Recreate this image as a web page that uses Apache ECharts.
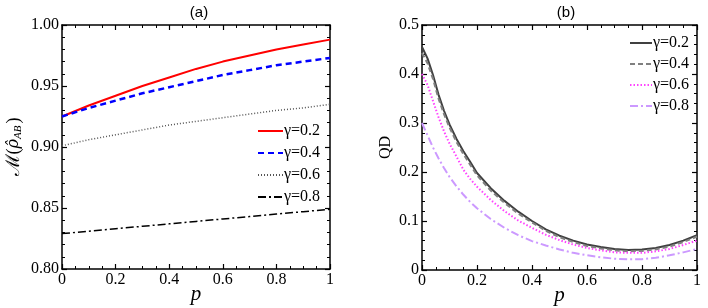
<!DOCTYPE html>
<html>
<head>
<meta charset="utf-8">
<script src="https://cdn.jsdelivr.net/npm/echarts@6/dist/echarts.min.js"></script>
<style>
html,body{margin:0;padding:0;background:#fff;}
#c{width:708px;height:308px;}
</style>
</head>
<body>
<div id="c"></div>
<script>
// ---- data ----
var gammaLabels = ['γ=0.2', 'γ=0.4', 'γ=0.6', 'γ=0.8'];
var xTicks = [0, 0.2, 0.4, 0.6, 0.8, 1];

// panel (a)
var pA = [0, 0.1, 0.2, 0.3, 0.4, 0.5, 0.6, 0.7, 0.8, 0.9, 1];
var mG02 = [0.925, 0.934, 0.942, 0.950, 0.957, 0.964, 0.970, 0.975, 0.980, 0.984, 0.988];
var mG04 = [0.925, 0.932, 0.938, 0.944, 0.949, 0.954, 0.959, 0.963, 0.967, 0.970, 0.973];
var mG06 = [0.901, 0.906, 0.910, 0.914, 0.918, 0.921, 0.924, 0.927, 0.930, 0.932, 0.935];
var mG08 = [0.829, 0.831, 0.833, 0.835, 0.837, 0.839, 0.841, 0.843, 0.845, 0.847, 0.849];

// panel (b)
var pB = [0, 0.02, 0.04, 0.06, 0.08, 0.1, 0.125, 0.15, 0.175, 0.2, 0.25, 0.3, 0.35, 0.4, 0.45, 0.5, 0.55, 0.6, 0.65, 0.7, 0.75, 0.8, 0.85, 0.9, 0.95, 1];
var qG02 = [0.455, 0.432, 0.398, 0.358, 0.325, 0.297, 0.268, 0.243, 0.221, 0.198, 0.167, 0.141, 0.119, 0.100, 0.083, 0.070, 0.060, 0.052, 0.047, 0.043, 0.041, 0.042, 0.045, 0.051, 0.060, 0.071];
var qG04 = [0.443, 0.422, 0.390, 0.350, 0.318, 0.291, 0.262, 0.237, 0.215, 0.193, 0.162, 0.137, 0.115, 0.097, 0.080, 0.067, 0.057, 0.049, 0.044, 0.040, 0.038, 0.039, 0.042, 0.048, 0.057, 0.068];
var qG06 = [0.400, 0.378, 0.345, 0.312, 0.283, 0.258, 0.232, 0.205, 0.186, 0.170, 0.143, 0.120, 0.101, 0.086, 0.072, 0.061, 0.052, 0.045, 0.040, 0.036, 0.035, 0.035, 0.038, 0.043, 0.051, 0.060];
var qG08 = [0.300, 0.275, 0.250, 0.228, 0.208, 0.190, 0.171, 0.154, 0.139, 0.126, 0.104, 0.086, 0.071, 0.059, 0.050, 0.042, 0.035, 0.030, 0.026, 0.023, 0.022, 0.022, 0.025, 0.030, 0.036, 0.043];

function pairs(xs, ys) { return xs.map(function (x, i) { return [x, ys[i]]; }); }

var SERIF = 'Liberation Serif';
var axisLine = { show: true, onZero: false, lineStyle: { color: '#000', width: 1.5 } };
function xFmt(v) { if (Math.abs(v) < 1e-9) return '0'; if (Math.abs(v - 1) < 1e-9) return '1'; return v.toFixed(1); }

function xAxisPair(gi) {
  var base = {
    gridIndex: gi, type: 'value', min: 0, max: 1, interval: 0.2,
    axisLine: axisLine, splitLine: { show: false },
    axisTick: { show: true, inside: true, length: 5, lineStyle: { color: '#000', width: 1.2 } },
    minorTick: { show: true, splitNumber: 4, length: 3, lineStyle: { color: '#000', width: 1 } }
  };
  var bottom = Object.assign({}, base, {
    position: 'bottom',
    axisLabel: { show: true, color: '#000', fontFamily: SERIF, fontSize: 16, margin: 3, formatter: xFmt },
    name: 'p', nameLocation: 'middle', nameGap: 15, nameMoveOverlap: false,
    nameTextStyle: { color: '#000', fontFamily: SERIF, fontStyle: 'italic', fontSize: 21 }
  });
  var top = Object.assign({}, base, { position: 'top', axisLabel: { show: false } });
  return [bottom, top];
}

function yAxisPair(gi, min, max, interval, fmt, nameObj) {
  var base = {
    gridIndex: gi, type: 'value', min: min, max: max, interval: interval,
    axisLine: axisLine, splitLine: { show: false },
    axisTick: { show: true, inside: true, length: 5, lineStyle: { color: '#000', width: 1.2 } },
    minorTick: { show: true, splitNumber: 5, length: 3, lineStyle: { color: '#000', width: 1 } }
  };
  var left = Object.assign({}, base, {
    position: 'left',
    axisLabel: { show: true, color: '#000', fontFamily: SERIF, fontSize: 16, margin: 3, formatter: fmt }
  }, nameObj);
  var right = Object.assign({}, base, { position: 'right', axisLabel: { show: false } });
  return [left, right];
}

var xa = xAxisPair(0), xb = xAxisPair(1);
var ya = yAxisPair(0, 0.8, 1.0, 0.05, function (v) { return v.toFixed(2); }, {
  name: '{m|ℳ}{n|(}{r|ρ̂}{s|AB}{n|)}', nameLocation: 'middle', nameGap: 38, nameRotate: 90,
  nameTextStyle: {
    color: '#000',
    rich: {
      m: { fontFamily: 'DejaVu Serif', fontSize: 19, color: '#000' },
      n: { fontFamily: SERIF, fontSize: 18, color: '#000' },
      r: { fontFamily: 'DejaVu Serif', fontStyle: 'italic', fontSize: 16, color: '#000' },
      s: { fontFamily: SERIF, fontStyle: 'italic', fontSize: 11, color: '#000', padding: [9, 2, 0, 0] }
    }
  }
});
var yb = yAxisPair(1, 0, 0.5, 0.1, function (v) { return Math.abs(v) < 1e-9 ? '0' : v.toFixed(1); }, {
  name: 'QD', nameLocation: 'middle', nameGap: 28, nameRotate: 90,
  nameTextStyle: { color: '#000', fontFamily: SERIF, fontSize: 16 }
});

function line(name, xi, yi, data, color, type, width) {
  return {
    type: 'line', name: name, xAxisIndex: xi, yAxisIndex: yi, data: data,
    showSymbol: false, symbol: 'none', smooth: false,
    lineStyle: { color: color, type: type, width: width }, itemStyle: { color: color },
    z: 3
  };
}

var dashDot = [8, 3, 2, 3];
var series = [
  line('Aγ=0.2', 0, 0, pairs(pA, mG02), '#ff0000', 'solid', 2),
  line('Aγ=0.4', 0, 0, pairs(pA, mG04), '#0000ff', [6, 4], 2.5),
  line('Aγ=0.6', 0, 0, pairs(pA, mG06), '#555555', [1, 2], 1.5),
  line('Aγ=0.8', 0, 0, pairs(pA, mG08), '#000000', dashDot, 1.5),
  line('Bγ=0.2', 2, 2, pairs(pB, qG02), '#404040', 'solid', 2),
  line('Bγ=0.4', 2, 2, pairs(pB, qG04), '#808080', [5, 3], 2),
  line('Bγ=0.6', 2, 2, pairs(pB, qG06), '#ff44ff', [1.5, 2], 2),
  line('Bγ=0.8', 2, 2, pairs(pB, qG08), '#cc99ff', dashDot, 2)
];

var legendText = { color: '#000', fontFamily: SERIF, fontSize: 16, lineHeight: 14, padding: [0, 0, 0, -4] };
var option = {
  animation: false,
  backgroundColor: '#fff',
  title: [
    { text: '(a)', left: 194, top: 0, textAlign: 'center', textStyle: { fontFamily: 'Liberation Sans', fontWeight: 'normal', fontSize: 15, color: '#000' } },
    { text: '(b)', left: 561, top: 0, textAlign: 'center', textStyle: { fontFamily: 'Liberation Sans', fontWeight: 'normal', fontSize: 15, color: '#000' } }
  ],
  grid: [
    { left: 62, top: 25, width: 268, height: 244, outerBoundsMode: 'none', containLabel: false },
    { left: 422, top: 25, width: 275, height: 245, outerBoundsMode: 'none', containLabel: false }
  ],
  xAxis: [xa[0], xa[1], xb[0], xb[1]],
  yAxis: [ya[0], ya[1], yb[0], yb[1]],
  legend: [
    {
      data: gammaLabels.map(function (g) { return 'A' + g; }),
      orient: 'vertical', left: 257, top: 123, itemWidth: 25, itemHeight: 14, itemGap: 6, padding: 0,
      itemStyle: { opacity: 0 },
      formatter: function (n) { return n.slice(1); }, textStyle: legendText, selectedMode: false
    },
    {
      data: gammaLabels.map(function (g) { return 'B' + g; }),
      orient: 'vertical', left: 629, top: 35, itemWidth: 22, itemHeight: 14, itemGap: 5, padding: 0,
      itemStyle: { opacity: 0 },
      formatter: function (n) { return n.slice(1); }, textStyle: legendText, selectedMode: false
    }
  ],
  series: series
};

var chart = echarts.init(document.getElementById('c'), null, { renderer: 'canvas' });
chart.setOption(option);
</script>
</body>
</html>
